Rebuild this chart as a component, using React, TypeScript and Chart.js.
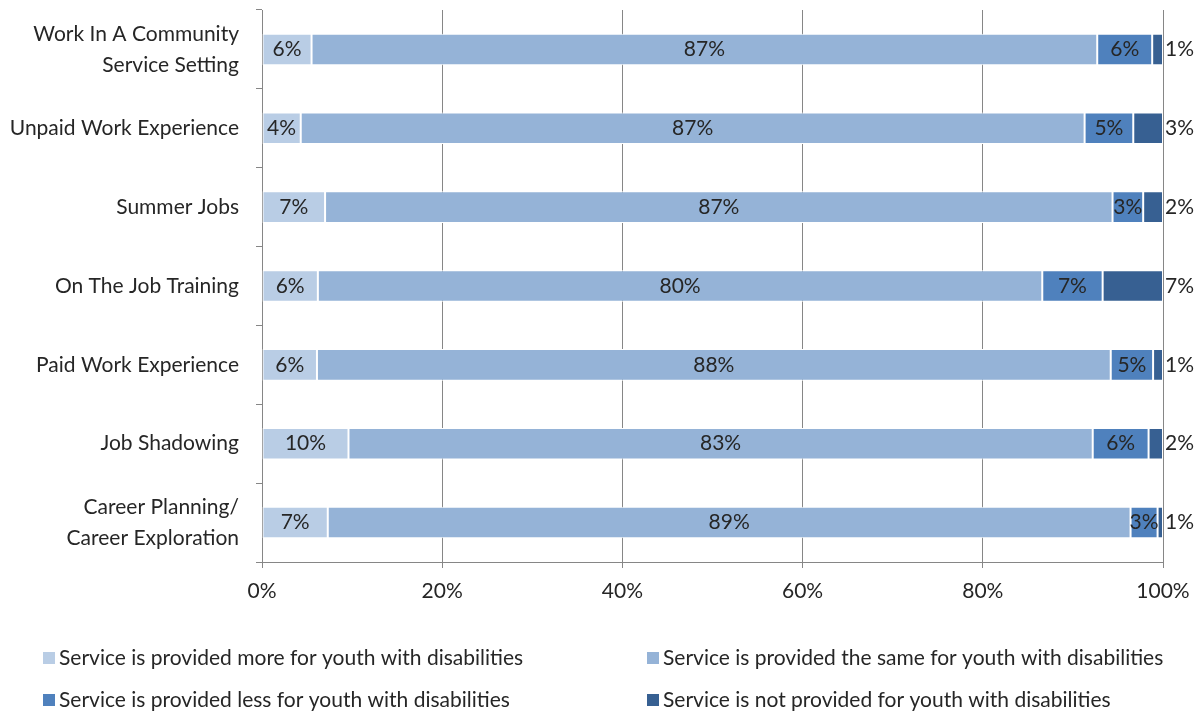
import React, { useEffect, useRef } from "react";
import { Chart, registerables } from "chart.js";

Chart.register(...registerables);

const categories: (string | string[])[] = [
  ["Work In A Community", "Service Setting"],
  "Unpaid Work Experience",
  "Summer Jobs",
  "On The Job Training",
  "Paid Work Experience",
  "Job Shadowing",
  ["Career Planning/", "Career Exploration"],
];

const seriesNames = [
  "Service is provided more for youth with disabilities",
  "Service is provided the same for youth with disabilities",
  "Service is provided less for youth with disabilities",
  "Service is not provided for youth with disabilities",
];

const moreValues = [5.5, 4.3, 7.0, 6.2, 6.1, 9.6, 7.3];
const sameValues = [87.2, 87.0, 87.4, 80.4, 88.1, 82.6, 89.1];
const lessValues = [6.1, 5.4, 3.4, 6.7, 4.7, 6.2, 3.0];
const notValues = [1.2, 3.3, 2.2, 6.7, 1.1, 1.6, 0.6];

const colors = ["#B9CDE5", "#95B3D7", "#4F81BD", "#376092"];
const xTicks = [0, 20, 40, 60, 80, 100];

const FONT = "Lato";
const FS = 21;

const labelPlugin = {
  id: "barLabels",
  afterDatasetsDraw(chart: any) {
    const ctx = chart.ctx;
    ctx.save();
    ctx.font = `${FS}px ${FONT}`;
    ctx.fillStyle = "#262626";
    ctx.textBaseline = "middle";
    const n = chart.data.datasets.length;
    chart.data.datasets.forEach((ds: any, i: number) => {
      const meta = chart.getDatasetMeta(i);
      meta.data.forEach((el: any, j: number) => {
        const txt = Math.round(ds.data[j]) + "%";
        if (i === n - 1) {
          ctx.textAlign = "left";
          ctx.fillText(txt, chart.chartArea.right + 2, el.y);
        } else {
          ctx.textAlign = "center";
          ctx.fillText(txt, (el.x + el.base) / 2, el.y);
        }
      });
    });
    ctx.restore();
  },
};

const legendPlugin = {
  id: "gridLegend",
  afterDraw(chart: any) {
    const ctx = chart.ctx;
    ctx.save();
    ctx.font = `${FS}px ${FONT}`;
    ctx.textBaseline = "middle";
    ctx.textAlign = "left";
    const cols = [43, 647];
    const rows = [658, 700];
    chart.data.datasets.forEach((ds: any, i: number) => {
      const x = cols[i % 2];
      const y = rows[Math.floor(i / 2)];
      ctx.fillStyle = ds.backgroundColor;
      ctx.fillRect(x, y - 6, 12, 12);
      ctx.fillStyle = "#262626";
      ctx.fillText(ds.label, x + 16, y);
    });
    ctx.restore();
  },
};

export default function App() {
  const ref = useRef<HTMLCanvasElement>(null);
  useEffect(() => {
    if (!ref.current) return;
    const allData = [moreValues, sameValues, lessValues, notValues];
    const chart = new Chart(ref.current, {
      type: "bar",
      data: {
        labels: categories,
        datasets: allData.map((d, i) => ({
          label: seriesNames[i],
          data: d,
          backgroundColor: colors[i],
          borderColor: "#FFFFFF",
          borderWidth: 1,
          borderSkipped: false,
          barPercentage: 0.4,
          categoryPercentage: 1,
        })),
      },
      options: {
        indexAxis: "y",
        animation: false,
        responsive: false,
        maintainAspectRatio: false,
        layout: { padding: { top: 10, right: 39, left: 0, bottom: 0 } },
        plugins: {
          legend: { display: false },
          tooltip: { enabled: false },
        },
        scales: {
          x: {
            stacked: true,
            min: 0,
            max: 100,
            afterBuildTicks: (scale: any) => {
              scale.ticks = xTicks.map((v) => ({ value: v }));
            },
            afterFit: (scale: any) => {
              scale.height = 153;
              scale.paddingLeft = 0;
              scale.paddingRight = 0;
            },
            grid: {
              color: "#868686",
              lineWidth: 1,
              drawTicks: true,
              tickLength: 6,
            },
            border: { color: "#868686" },
            ticks: {
              callback: (v: any) => v + "%",
              font: { family: FONT, size: FS },
              color: "#262626",
              padding: 11,
              maxRotation: 0,
            },
          },
          y: {
            stacked: true,
            offset: true,
            afterFit: (scale: any) => {
              scale.width = 262;
              scale.paddingTop = 0;
              scale.paddingBottom = 0;
            },
            grid: {
              offset: true,
              drawOnChartArea: false,
              drawTicks: true,
              tickLength: 6,
              color: "#868686",
            },
            border: { color: "#868686" },
            ticks: {
              font: { family: FONT, size: FS, lineHeight: 1.48 },
              color: "#262626",
              padding: 17,
            },
          },
        },
      },
      plugins: [labelPlugin, legendPlugin],
    });
    return () => chart.destroy();
  }, []);
  return (
    <div style={{ position: "absolute", left: 0, top: 0, width: 1202, height: 715, background: "#fff" }}>
      <canvas ref={ref} width={1202} height={715} style={{ width: 1202, height: 715 }} />
    </div>
  );
}
